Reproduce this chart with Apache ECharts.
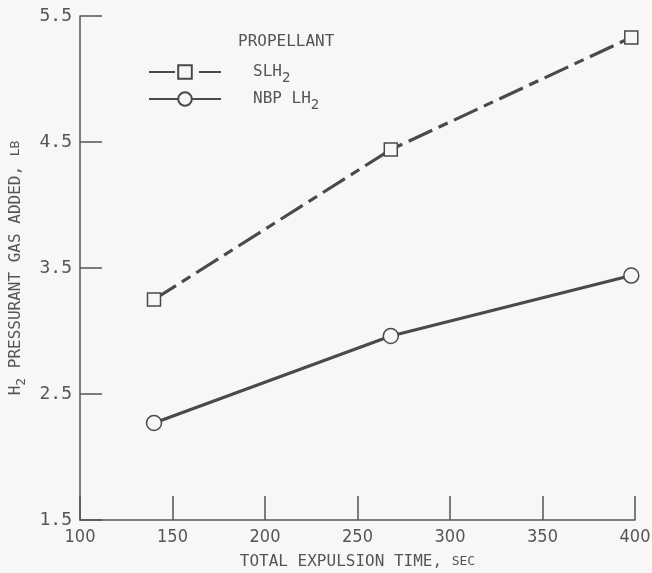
<!DOCTYPE html>
<html lang="en">
<head>
    <meta charset="UTF-8">
    <title>H2 pressurant gas added</title>
    <style>
        html, body { margin: 0; padding: 0; background: #f7f7f7; }
    </style>
</head>
<body>
<div id="main" style="width: 652px; height: 573px;"></div>

<script src="https://cdn.jsdelivr.net/npm/echarts@6/dist/echarts.min.js"></script>
<script type="text/javascript">
    // data
    var expulsionTime = [140, 268, 398];
    var slh2 = [3.25, 4.44, 5.33];
    var nbpLh2 = [2.27, 2.96, 3.44];
    var seriesNames = ['SLH2', 'NBP LH2'];

    var ink = '#4a4a4a';
    var mono = '"DejaVu Sans Mono", monospace';

    function pairs(xs, ys) {
        return xs.map(function (x, i) { return [x, ys[i]]; });
    }

    var myChart = echarts.init(document.getElementById('main'));
    var option = {
        backgroundColor: '#f7f7f7',
        animation: false,
        grid: { left: 80, right: 17, top: 16, bottom: 53, outerBoundsMode: 'none', containLabel: false },
        title: {
            text: 'PROPELLANT',
            left: 233, top: 29,
            textStyle: { fontFamily: mono, fontSize: 16, fontWeight: 'normal', color: '#555' }
        },
        legend: {
            orient: 'vertical',
            left: 143, top: 59,
            itemWidth: 72, itemHeight: 17, itemGap: 6,
            data: seriesNames,
            formatter: function (name) {
                return name === 'SLH2' ? 'SLH{sub|2}' : 'NBP LH{sub|2}';
            },
            textStyle: {
                fontFamily: mono, fontSize: 16, color: '#555',
                padding: [0, 0, 0, 27],
                rich: {
                    sub: { fontFamily: mono, fontSize: 14, color: '#555', padding: [12, 0, 0, 0] }
                }
            }
        },
        xAxis: {
            type: 'value',
            min: 100, max: 400, interval: 50,
            name: 'TOTAL EXPULSION TIME, {s|SEC}',
            nameLocation: 'middle',
            nameGap: 34,
            nameTextStyle: {
                fontFamily: mono, fontSize: 16, color: '#555',
                rich: { s: { fontFamily: mono, fontSize: 13, color: '#555' } }
            },
            axisLine: { lineStyle: { color: '#555', width: 1.5 } },
            axisTick: { inside: true, length: 24, lineStyle: { color: '#555', width: 1.5 } },
            axisLabel: { fontFamily: '"DejaVu Sans Condensed", sans-serif', fontSize: 18, color: '#555', margin: 8 },
            splitLine: { show: false }
        },
        yAxis: {
            type: 'value',
            min: 1.5, max: 5.5, interval: 1,
            name: 'H{sub|2} PRESSURANT GAS ADDED, {s|LB}',
            nameLocation: 'middle',
            nameGap: 50,
            nameTextStyle: {
                fontFamily: mono, fontSize: 16, color: '#555',
                rich: {
                    sub: { fontFamily: mono, fontSize: 13, color: '#555', padding: [12, 0, 0, 0] },
                    s: { fontFamily: mono, fontSize: 13, color: '#555' }
                }
            },
            axisLine: { lineStyle: { color: '#555', width: 1.5 } },
            axisTick: { inside: true, length: 22, lineStyle: { color: '#555', width: 1.5 } },
            axisLabel: {
                fontFamily: mono, fontSize: 18, color: '#555', margin: 8,
                formatter: function (v) { return v.toFixed(1); }
            },
            splitLine: { show: false }
        },
        series: [
            {
                name: 'SLH2',
                type: 'line',
                data: pairs(expulsionTime, slh2),
                symbol: 'rect',
                symbolSize: 13,
                lineStyle: { color: ink, width: 3.2, type: [26, 7, 10, 7] },
                itemStyle: { color: '#f7f7f7', borderColor: ink, borderWidth: 1.5 }
            },
            {
                name: 'NBP LH2',
                type: 'line',
                data: pairs(expulsionTime, nbpLh2),
                symbol: 'circle',
                symbolSize: 15,
                lineStyle: { color: ink, width: 3.2 },
                itemStyle: { color: '#f7f7f7', borderColor: ink, borderWidth: 1.5 }
            }
        ]
    };
    myChart.setOption(option);
</script>

</body>
</html>
